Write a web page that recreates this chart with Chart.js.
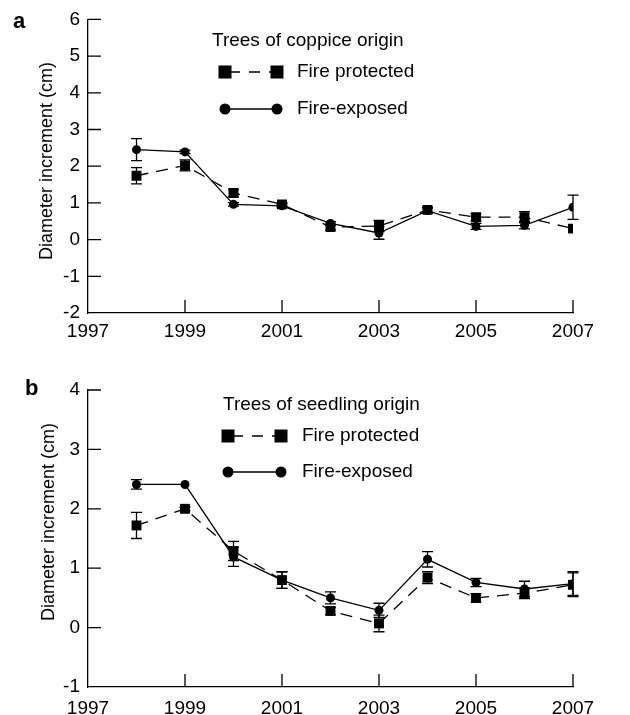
<!DOCTYPE html>
<html><head><meta charset="utf-8">
<script src="https://cdn.jsdelivr.net/npm/chart.js@4"></script>
<style>
html,body{margin:0;padding:0;background:#fff;width:630px;height:715px;overflow:hidden}
#a{position:absolute;left:0;top:0}
#b{position:absolute;left:0;top:345px}
</style></head>
<body>
<canvas id="a" width="630" height="345"></canvas>
<canvas id="b" width="630" height="370"></canvas>
<script>
// ---- data ----
const years = [1998,1999,2000,2001,2002,2003,2004,2005,2006,2007];
const xTickLabels = ['1997','1999','2001','2003','2005','2007'];
const coppiceProtected    = [1.74,2.02,1.27,0.96,0.34,0.37,0.81,0.61,0.61,0.30];
const coppiceProtectedErr = [0.22,0.15,0.10,0.05,0.08,0.15,0.07,0.10,0.15,0.00];
const coppiceExposed      = [2.45,2.39,0.96,0.92,0.44,0.18,0.79,0.36,0.39,0.88];
const coppiceExposedErr   = [0.30,0.05,0.05,0.05,0.05,0.17,0.07,0.08,0.10,0.33];
const seedlingProtected    = [1.72,2.00,1.29,0.80,0.28,0.07,0.84,0.50,0.58,0.72];
const seedlingProtectedErr = [0.22,0.03,0.16,0.14,0.06,0.14,0.10,0.07,0.09,0.20];
const seedlingExposed      = [2.41,2.41,1.19,0.80,0.50,0.29,1.15,0.76,0.65,0.74];
const seedlingExposedErr   = [0.08,0.00,0.16,0.14,0.10,0.12,0.13,0.07,0.13,0.20];
const seriesNames = ['Fire protected','Fire-exposed'];
const panelTitles = ['Trees of coppice origin','Trees of seedling origin'];
const yTitle = 'Diameter increment (cm)';

Chart.defaults.font.family = "'Liberation Sans', Arial, sans-serif";
Chart.defaults.color = '#000';

function pts(vals){ return years.map((y,i)=>({x:y,y:vals[i]})); }

const errPlugin = {
  id:'err',
  beforeDatasetsDraw(chart){
    const ctx = chart.ctx, xs = chart.scales.x, ys = chart.scales.y;
    ctx.save(); ctx.strokeStyle='#000'; ctx.lineWidth=1.3;
    chart.data.datasets.forEach(ds=>{
      ds.data.forEach((p,i)=>{
        const e = ds.errors[i]; if(!e) return;
        const px = xs.getPixelForValue(p.x);
        const t = ys.getPixelForValue(p.y+e), b = ys.getPixelForValue(p.y-e);
        ctx.beginPath();
        ctx.moveTo(px,t); ctx.lineTo(px,b);
        ctx.moveTo(px-5.5,t); ctx.lineTo(px+5.5,t);
        ctx.moveTo(px-5.5,b); ctx.lineTo(px+5.5,b);
        ctx.stroke();
      });
    });
    ctx.restore();
  }
};

const decoPlugin = {
  id:'deco',
  afterDraw(chart){
    const o = chart.options.plugins.deco;
    const ctx = chart.ctx, xs = chart.scales.x, ys = chart.scales.y, ca = chart.chartArea;
    ctx.save();
    ctx.strokeStyle='#000'; ctx.lineWidth=1.3; ctx.fillStyle='#000';
    // inward ticks
    ctx.beginPath();
    ys.ticks.forEach(t=>{ if(t.value===ys.min) return; const py=ys.getPixelForValue(t.value); ctx.moveTo(ca.left,py); ctx.lineTo(ca.left+13,py); });
    xs.ticks.forEach(t=>{ if(t.value===xs.min) return; const px=xs.getPixelForValue(t.value); ctx.moveTo(px,ca.bottom); ctx.lineTo(px,ca.bottom-13); });
    ctx.stroke();
    // panel letter
    ctx.font = "bold 22px 'Liberation Sans', Arial";
    ctx.textBaseline='middle'; ctx.textAlign='left';
    ctx.fillText(o.letter, o.letterX, o.letterY);
    // y title
    ctx.save();
    ctx.translate(o.yTitleX, o.yTitleY); ctx.rotate(-Math.PI/2);
    ctx.font = "18px 'Liberation Sans', Arial"; ctx.textAlign='center';
    ctx.fillText(yTitle,0,0);
    ctx.restore();
    // legend
    ctx.font = "19px 'Liberation Sans', Arial"; ctx.textAlign='left'; ctx.textBaseline='middle';
    ctx.fillText(o.title, o.titleX, o.titleY);
    ctx.fillText(seriesNames[0], o.textX, o.row1);
    ctx.fillText(seriesNames[1], o.textX, o.row2);
    // dashed sample
    ctx.save(); ctx.setLineDash([11,9]); ctx.lineDashOffset=-4;
    ctx.beginPath(); ctx.moveTo(o.m1, o.row1); ctx.lineTo(o.m2, o.row1); ctx.stroke(); ctx.restore();
    ctx.fillRect(o.m1-6.5, o.row1-6.5, 13, 13);
    ctx.fillRect(o.m2-6.5, o.row1-6.5, 13, 13);
    ctx.beginPath(); ctx.moveTo(o.m1, o.row2); ctx.lineTo(o.m2, o.row2); ctx.stroke();
    ctx.beginPath(); ctx.arc(o.m1,o.row2,5.5,0,Math.PI*2); ctx.fill();
    ctx.beginPath(); ctx.arc(o.m2,o.row2,5.5,0,Math.PI*2); ctx.fill();
    ctx.restore();
  }
};

function makeChart(id, H, top, bottom, ymin, ymax, prot, protErr, expo, expoErr, deco, labelPad){
  return new Chart(document.getElementById(id), {
    type:'line',
    data:{datasets:[
      {label:seriesNames[0], data:pts(prot), errors:protErr, borderColor:'#000', backgroundColor:'#000',
       borderWidth:1.3, borderDash:[12,8], pointStyle:'rect', pointRadius:7, pointBorderWidth:0, tension:0},
      {label:seriesNames[1], data:pts(expo), errors:expoErr, borderColor:'#000', backgroundColor:'#000',
       borderWidth:1.3, pointStyle:'circle', pointRadius:4.5, pointBorderWidth:0, tension:0}
    ]},
    options:{
      responsive:false, animation:false, devicePixelRatio:1,
      layout:{padding:{left:0,right:57,top:top,bottom:0}},
      plugins:{legend:{display:false}, tooltip:{enabled:false}, deco:deco},
      scales:{
        x:{type:'linear', min:1997, max:2007,
           ticks:{stepSize:2, padding:labelPad, font:{size:19}, color:'#000', maxRotation:0,
                  callback:(v)=> xTickLabels.includes(String(v)) ? String(v) : ''},
           grid:{display:true, drawOnChartArea:false, drawTicks:false},
           border:{display:true, color:'#000', width:1.3},
           afterFit:(s)=>{ s.height = H-bottom; }},
        y:{min:ymin, max:ymax,
           ticks:{stepSize:1, padding:8, font:{size:19}, color:'#000'},
           grid:{display:true, drawOnChartArea:false, drawTicks:false},
           border:{display:true, color:'#000', width:1.3},
           afterFit:(s)=>{ s.width = 88; }}
      }
    },
    plugins:[errPlugin, decoPlugin]
  });
}

makeChart('a', 345, 16, 313, -2, 6, coppiceProtected, coppiceProtectedErr, coppiceExposed, coppiceExposedErr,
  {letter:'a', letterX:13, letterY:22, yTitleX:47, yTitleY:161, title:panelTitles[0], titleX:212, titleY:41,
   textX:297, row1:72, row2:109, m1:225, m2:277}, 7);
makeChart('b', 370, 45, 342, -1, 4, seedlingProtected, seedlingProtectedErr, seedlingExposed, seedlingExposedErr,
  {letter:'b', letterX:25, letterY:44, yTitleX:49, yTitleY:177, title:panelTitles[1], titleX:223, titleY:60,
   textX:302, row1:91, row2:127, m1:228, m2:281}, 10);
</script>
</body></html>
